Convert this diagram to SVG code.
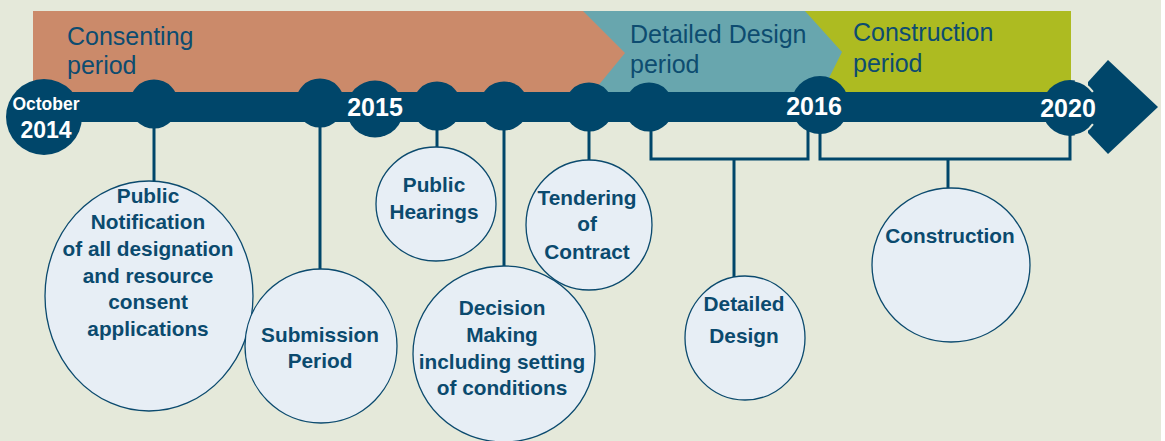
<svg xmlns="http://www.w3.org/2000/svg" width="1165" height="441" viewBox="0 0 1165 441">
<style>
.lbl{font-family:"Liberation Sans",Arial,sans-serif;font-weight:bold;font-size:20.8px;fill:#0B4A6E;text-anchor:middle}
.per{font-family:"Liberation Sans",Arial,sans-serif;font-size:25px;fill:#0D4C70}
.yr{font-family:"Liberation Sans",Arial,sans-serif;font-weight:bold;fill:#ffffff;text-anchor:middle}
.bub{fill:#E7EEF5;stroke:#0B4A6E;stroke-width:1.3}
.dot{fill:#00466A}
.con{fill:none;stroke:#00466A;stroke-width:3}
</style>
<rect x="0" y="0" width="1165" height="441" fill="#ffffff"/>
<rect x="0" y="0" width="1161" height="441" fill="#E5E9DA"/>
<g id="bands">
<polygon points="805,11 1071,11 1071,92 805,92" fill="#ADBB21"/>
<polygon points="333,11 805,11 842,52 822,92 333,92" fill="#68A6AE"/>
<polygon points="33,11 583,11 625,53 593,92 33,92" fill="#CB8A6A"/>
<text class="per" x="67" y="45">Consenting</text>
<text class="per" x="67" y="74">period</text>
<text class="per" x="630" y="43">Detailed Design</text>
<text class="per" x="630" y="73">period</text>
<text class="per" x="853" y="41">Construction</text>
<text class="per" x="853" y="72">period</text>
</g>
<g id="connectors">
<line class="con" x1="154" y1="120" x2="154" y2="181"/>
<line class="con" x1="320" y1="120" x2="320" y2="269"/>
<line class="con" x1="437" y1="120" x2="437" y2="148"/>
<line class="con" x1="504" y1="120" x2="504" y2="266"/>
<line class="con" x1="589" y1="120" x2="589" y2="160"/>
<polyline class="con" points="651,125 651,159 808,159 808,128"/>
<line class="con" x1="734" y1="159" x2="734" y2="277"/>
<polyline class="con" points="820,125 820,159 1070,159 1070,130"/>
<line class="con" x1="948" y1="159" x2="948" y2="188"/>
</g>
<g id="timeline">
<polygon class="dot" points="1088,82 1108,60 1158,107 1108,154 1088,133"/>
<circle class="dot" cx="44" cy="117" r="38"/>
<circle class="dot" cx="154" cy="104" r="24.5"/>
<circle class="dot" cx="320" cy="103" r="24.5"/>
<circle class="dot" cx="375" cy="109" r="28.5"/>
<circle class="dot" cx="437" cy="106" r="24.5"/>
<circle class="dot" cx="504" cy="106" r="24.5"/>
<circle class="dot" cx="589" cy="107" r="24.5"/>
<circle class="dot" cx="649" cy="107" r="24.5"/>
<circle class="dot" cx="820" cy="105" r="29"/>
<circle class="dot" cx="1070" cy="108" r="28"/>
<rect class="dot" x="40" y="92" width="1058" height="30"/>
<path d="M1074.9,80.4 A28,28 0 0 1 1092.9,91.9 M1092.9,124.1 A28,28 0 0 1 1074.9,135.6" fill="none" stroke="#E5E9DA" stroke-width="2"/>
<text class="yr" x="46" y="110" font-size="17.5">October</text>
<text class="yr" x="46" y="138" font-size="23">2014</text>
<text class="yr" x="375" y="116" font-size="25">2015</text>
<text class="yr" x="814" y="115" font-size="25">2016</text>
<text class="yr" x="1068" y="117" font-size="25">2020</text>
</g>
<g id="node-public-notification">
<ellipse class="bub" cx="149" cy="296" rx="104" ry="115"/>
<text class="lbl" x="148" y="203">Public</text>
<text class="lbl" x="148" y="229">Notification</text>
<text class="lbl" x="148" y="256">of all designation</text>
<text class="lbl" x="148" y="283">and resource</text>
<text class="lbl" x="148" y="309">consent</text>
<text class="lbl" x="148" y="336">applications</text>
</g>
<g id="node-submission">
<ellipse class="bub" cx="321" cy="346" rx="76" ry="77"/>
<text class="lbl" x="320" y="342">Submission</text>
<text class="lbl" x="320" y="368">Period</text>
</g>
<g id="node-public-hearings">
<ellipse class="bub" cx="436" cy="204" rx="60" ry="57"/>
<text class="lbl" x="434" y="192">Public</text>
<text class="lbl" x="434" y="219">Hearings</text>
</g>
<g id="node-decision">
<ellipse class="bub" cx="504" cy="354" rx="91" ry="88"/>
<text class="lbl" x="502" y="315">Decision</text>
<text class="lbl" x="502" y="342">Making</text>
<text class="lbl" x="502" y="369">including setting</text>
<text class="lbl" x="502" y="395">of conditions</text>
</g>
<g id="node-tendering">
<ellipse class="bub" cx="589" cy="225" rx="63" ry="65"/>
<text class="lbl" x="587" y="205">Tendering</text>
<text class="lbl" x="587" y="231">of</text>
<text class="lbl" x="587" y="259">Contract</text>
</g>
<g id="node-detailed-design">
<ellipse class="bub" cx="745" cy="338" rx="60" ry="62"/>
<text class="lbl" x="744" y="311">Detailed</text>
<text class="lbl" x="744" y="343">Design</text>
</g>
<g id="node-construction">
<ellipse class="bub" cx="951" cy="265" rx="79" ry="77"/>
<text class="lbl" x="950" y="243">Construction</text>
</g>
</svg>
